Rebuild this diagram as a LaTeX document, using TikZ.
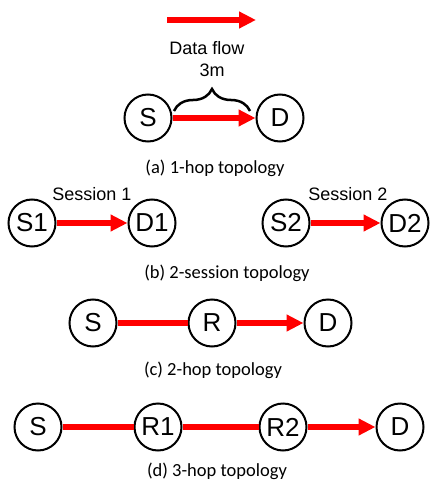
\documentclass[tikz,border=0pt]{standalone}
\usepackage{fontspec}
\setmainfont{Liberation Sans}
\newfontfamily\capfont{Carlito}
\usetikzlibrary{arrows.meta,decorations.pathreplacing}

\begin{document}
\begin{tikzpicture}[
    x=1pt, y=-1pt,
    station/.style={circle, draw, line width=2pt, minimum size=47pt, inner sep=0pt, font=\fontsize{26}{30}\selectfont},
    link/.style={line width=5.5pt, red},
    flow/.style={link, -{Triangle[length=17pt, width=16pt]}},
    tag/.style={inner sep=0pt, font=\fontsize{18}{21}\selectfont},
    caption/.style={inner sep=0pt, font=\capfont\fontsize{18.5}{22}\selectfont}
]
\useasboundingbox (0,0) rectangle (429,481);

% Legend
\coordinate (l1) at (167,20);
\coordinate (l2) at (256,20);
\draw[flow] (l1) -- (l2);
\node[tag] (legend) at (207,48) {Data flow};

% (a) 1-hop
\node[station] (s) at (148,118) {S};
\node[station] (d) at (280,118) {D};
\draw[flow] (s) -- (d);
\coordinate (b1) at (174,111);
\coordinate (b2) at (250,111);
\draw[line width=2.5pt, decorate, decoration={brace, amplitude=22pt, aspect=0.5}]
  (b1) -- (b2);
\node[tag] (dist) at (212,70) {3m};
\node[caption] (capa) at (215,168) {(a) 1-hop topology};

% (b) 2-session
\node[station] (s1) at (32,223) {S1};
\node[station] (d1) at (152,223) {D1};
\draw[flow] (s1) -- (d1);
\node[tag] (ses1) at (92,194) {Session 1};
\node[station] (s2) at (286,223) {S2};
\node[station] (d2) at (405,223) {D2};
\draw[flow] (s2) -- (d2);
\node[tag] (ses2) at (348,194) {Session 2};
\node[caption] (capb) at (227,273) {(b) 2-session topology};

% (c) 2-hop
\node[station] (cs) at (93,323) {S};
\node[station] (cr) at (212,323) {R};
\node[station] (cd) at (328,323) {D};
\draw[link] (cs) -- (cr);
\draw[flow] (cr) -- (cd);
\node[caption] (capc) at (213,370) {(c) 2-hop topology};

% (d) 3-hop
\node[station] (ds) at (38,427) {S};
\node[station] (dr1) at (158,427) {R1};
\node[station] (dr2) at (283,427) {R2};
\node[station] (dd) at (400,427) {D};
\draw[link] (ds) -- (dr1);
\draw[link] (dr1) -- (dr2);
\draw[flow] (dr2) -- (dd);
\node[caption] (capd) at (217,471) {(d) 3-hop topology};

\end{tikzpicture}
\end{document}
